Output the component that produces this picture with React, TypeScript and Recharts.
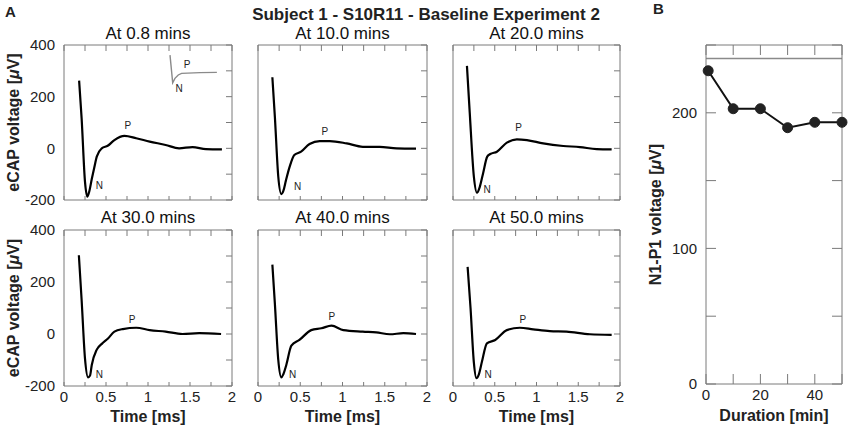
import { Label, Line, LineChart, ReferenceDot, ReferenceLine, XAxis, YAxis } from "recharts";

// eCAP traces (time in ms, voltage in µV)
const t08 = [0.18, 0.21, 0.25, 0.277, 0.3, 0.33, 0.36, 0.39, 0.45, 0.52, 0.6, 0.72, 0.86, 1.02, 1.21, 1.37, 1.53, 1.69, 1.88];
const v08 = [262, 115, -130, -187, -168, -120, -75, -32, 0, 10, 32, 48, 39, 26, 13, 0, 5, -3, -4];

const t10 = [0.17, 0.2, 0.24, 0.276, 0.3, 0.33, 0.375, 0.43, 0.51, 0.61, 0.73, 0.85, 1.05, 1.24, 1.44, 1.64, 1.87];
const v10 = [275, 120, -110, -177, -165, -125, -71, -26, -13, 17, 28, 28, 19, 6, 6, 0, -1];

const t20 = [0.167, 0.2, 0.25, 0.287, 0.32, 0.36, 0.41, 0.446, 0.526, 0.645, 0.765, 0.885, 1.08, 1.32, 1.52, 1.72, 1.9];
const v20 = [319, 140, -110, -172, -150, -97, -32, -22, -13, 22, 35, 32, 19, 9, 5, -3, -4];

const t30 = [0.177, 0.21, 0.25, 0.287, 0.31, 0.33, 0.39, 0.45, 0.524, 0.6, 0.7, 0.86, 1.02, 1.21, 1.41, 1.61, 1.87];
const v30 = [303, 130, -95, -167, -160, -120, -60, -38, -17, 9, 19, 24, 15, 9, 0, 3, 0];

const t40 = [0.17, 0.2, 0.24, 0.276, 0.3, 0.335, 0.395, 0.49, 0.63, 0.75, 0.87, 1.01, 1.24, 1.4, 1.56, 1.72, 1.87];
const v40 = [267, 115, -100, -167, -155, -119, -45, -23, 15, 22, 32, 15, 9, 6, -1, 3, 0];

const t50 = [0.175, 0.21, 0.25, 0.28, 0.31, 0.347, 0.406, 0.506, 0.645, 0.8, 0.96, 1.16, 1.36, 1.64, 1.9];
const v50 = [258, 100, -110, -170, -155, -106, -36, -23, 15, 24, 18, 11, 9, -1, -3];

// small grey template trace drawn in the first panel
const tInset = [1.262, 1.294, 1.321, 1.36, 1.4, 1.62, 1.82];
const vInset = [361, 254, 271, 284, 290, 293, 294];

// N1-P1 amplitude over time
const durations = [0.8, 10, 20, 30, 40, 50];
const n1p1 = [231, 203, 203, 189, 193, 193];

const panelTitles = ["At 0.8 mins", "At 10.0 mins", "At 20.0 mins", "At 30.0 mins", "At 40.0 mins", "At 50.0 mins"];
const pLabels = [[0.76, 90], [0.79, 65], [0.785, 81], [0.81, 57], [0.875, 66], [0.835, 57]];
const nLabels = [[0.42, -142], [0.47, -146], [0.41, -159], [0.42, -155], [0.41, -155], [0.42, -155]];

const timeTicks = [0, 0.25, 0.5, 0.75, 1, 1.25, 1.5, 1.75, 2];
const voltTicks = [-200, -100, 0, 100, 200, 300, 400];
const durTicks = [0, 10, 20, 30, 40, 50];
const ampTicks = [0, 50, 100, 150, 200, 250];

const FONT = "'Liberation Sans', Arial, Helvetica, sans-serif";
const FRAME = "#7a7a7a";
const tickText = { fill: "#222", fontSize: 15, fontFamily: FONT };
const blank = () => "";

const zip = (t: number[], v: number[]) => t.map((x, i) => ({ t: x, v: v[i] }));
const traces = [zip(t08, v08), zip(t10, v10), zip(t20, v20), zip(t30, v30), zip(t40, v40), zip(t50, v50)];
const insetData = zip(tInset, vInset);
const ampData = durations.map((d, i) => ({ d, a: n1p1[i] }));

const colX = [[64, 232], [258, 427], [453, 620]];
const rowY = [[45, 200], [230, 386]];

const PAD_L = 45;
const PAD_R = 10;
const PAD_T = 10;
const PAD_B = 25;
// the top/right frame axes need a size of at least 1px or recharts skips them
const margin = { top: PAD_T - 1, right: PAD_R - 1, bottom: 0, left: 0 };

function Tag({ x, y, text }: { x: number; y: number; text: string }) {
  return (
    <ReferenceDot fill="none" r={0} stroke="none" x={x} y={y}>
      <Label fill="#222" fontFamily={FONT} fontSize={10} position="center" value={text} />
    </ReferenceDot>
  );
}

function TracePanel({ index }: { index: number }) {
  const col = index % 3;
  const row = Math.floor(index / 3);
  const [x0, x1] = colX[col];
  const [y0, y1] = rowY[row];
  const w = x1 - x0;
  const h = y1 - y0;
  const showX = row === 1;
  const showY = col === 0;
  return (
    <div style={{ position: "absolute", left: x0 - PAD_L, top: y0 - PAD_T }}>
      <LineChart data={traces[index]} height={h + PAD_T + PAD_B} margin={margin} width={w + PAD_L + PAD_R}>
        <XAxis
          axisLine={{ stroke: FRAME }}
          dataKey="t"
          domain={[0, 2]}
          height={PAD_B}
          tick={tickText}
          tickFormatter={showX ? (v: number) => (v % 0.5 === 0 ? String(v) : "") : blank}
          tickLine={{ stroke: FRAME }}
          tickMargin={9}
          tickSize={-4}
          ticks={timeTicks}
          type="number"
        />
        <XAxis
          axisLine={{ stroke: FRAME }}
          dataKey="t"
          domain={[0, 2]}
          height={1}
          orientation="top"
          tick={tickText}
          tickFormatter={blank}
          tickLine={{ stroke: FRAME }}
          tickSize={-6}
          ticks={timeTicks}
          type="number"
          xAxisId="top"
        />
        <YAxis
          axisLine={{ stroke: FRAME }}
          domain={[-200, 400]}
          tick={showY ? tickText : false}
          tickFormatter={(v: number) => (v % 200 === 0 ? String(v) : "")}
          tickLine={false}
          tickMargin={9}
          tickSize={0}
          ticks={voltTicks}
          type="number"
          width={PAD_L}
        />
        <YAxis
          axisLine={{ stroke: FRAME }}
          domain={[-200, 400]}
          orientation="right"
          tick={tickText}
          tickFormatter={blank}
          tickLine={{ stroke: FRAME }}
          tickSize={-6}
          ticks={voltTicks}
          type="number"
          width={1}
          yAxisId="right"
        />
        {/* invisible twin so the top and right frame axes get a series */}
        <Line
          dataKey="v"
          dot={false}
          isAnimationActive={false}
          legendType="none"
          stroke="none"
          xAxisId="top"
          yAxisId="right"
        />
        <Line
          dataKey="v"
          dot={false}
          isAnimationActive={false}
          stroke="#000"
          strokeWidth={2.2}
          type="monotone"
        />
        {index === 0 && (
          <Line
            data={insetData}
            dataKey="v"
            dot={false}
            isAnimationActive={false}
            stroke="#8a8a8a"
            strokeWidth={1.4}
            type="linear"
          />
        )}
        {index === 0 && <Tag text="P" x={1.464} y={326} />}
        {index === 0 && <Tag text="N" x={1.37} y={232} />}
        <Tag text="P" x={pLabels[index][0]} y={pLabels[index][1]} />
        <Tag text="N" x={nLabels[index][0]} y={nLabels[index][1]} />
      </LineChart>
    </div>
  );
}

function AmplitudePanel() {
  const x0 = 706;
  const x1 = 842;
  const y0 = 45;
  const y1 = 384;
  return (
    <div style={{ position: "absolute", left: x0 - PAD_L, top: y0 - PAD_T }}>
      <LineChart data={ampData} height={y1 - y0 + PAD_T + PAD_B} margin={margin} width={x1 - x0 + PAD_L + PAD_R}>
        <XAxis
          axisLine={{ stroke: FRAME }}
          dataKey="d"
          domain={[0, 50]}
          height={PAD_B}
          tick={tickText}
          tickFormatter={(v: number) => (v % 20 === 0 ? String(v) : "")}
          tickLine={{ stroke: FRAME }}
          tickMargin={15}
          tickSize={-10}
          ticks={durTicks}
          type="number"
        />
        <XAxis
          axisLine={{ stroke: FRAME }}
          dataKey="d"
          domain={[0, 50]}
          height={1}
          orientation="top"
          tick={tickText}
          tickFormatter={blank}
          tickLine={{ stroke: FRAME }}
          tickSize={-10}
          ticks={durTicks}
          type="number"
          xAxisId="top"
        />
        <YAxis
          axisLine={{ stroke: FRAME }}
          domain={[0, 250]}
          tick={tickText}
          tickFormatter={(v: number) => (v % 100 === 0 ? String(v) : "")}
          tickLine={{ stroke: FRAME }}
          tickMargin={19}
          tickSize={-10}
          ticks={ampTicks}
          type="number"
          width={PAD_L}
        />
        <YAxis
          axisLine={{ stroke: FRAME }}
          domain={[0, 250]}
          orientation="right"
          tick={tickText}
          tickFormatter={blank}
          tickLine={{ stroke: FRAME }}
          tickSize={-10}
          ticks={ampTicks}
          type="number"
          width={1}
          yAxisId="right"
        />
        <Line
          dataKey="a"
          dot={false}
          isAnimationActive={false}
          legendType="none"
          stroke="none"
          xAxisId="top"
          yAxisId="right"
        />
        <ReferenceLine stroke="#8a8a8a" strokeWidth={1.6} y={240} />
        <Line
          dataKey="a"
          dot={{ r: 5, fill: "#222", stroke: "#222", strokeWidth: 1 }}
          isAnimationActive={false}
          stroke="#111"
          strokeWidth={2}
          type="linear"
        />
      </LineChart>
    </div>
  );
}

function Mu() {
  return <tspan fontStyle="italic">μ</tspan>;
}

function Annotations() {
  const bold = { fontFamily: FONT, fontWeight: 700, fill: "#222" };
  const plain = { fontFamily: FONT, fill: "#111" };
  return (
    <svg height={434} style={{ position: "absolute", left: 0, top: 0, pointerEvents: "none" }} width={851}>
      <text {...bold} fontSize={15} x={5} y={17}>A</text>
      <text {...bold} fontSize={15} x={653} y={14}>B</text>
      <text {...bold} fontSize={17} textAnchor="middle" x={426} y={20}>
        Subject 1 - S10R11 - Baseline Experiment 2
      </text>
      {panelTitles.map((title, i) => {
        const [x0, x1] = colX[i % 3];
        const baseline = i < 3 ? 39 : 223;
        return (
          <text {...plain} fontSize={17} key={title} textAnchor="middle" x={(x0 + x1) / 2} y={baseline}>
            {title}
          </text>
        );
      })}
      {rowY.map(([y0, y1]) => (
        <text
          {...bold}
          dominantBaseline="central"
          fontSize={16}
          key={y0}
          textAnchor="middle"
          transform={`translate(13 ${(y0 + y1) / 2}) rotate(-90)`}
        >
          eCAP voltage [<Mu />V]
        </text>
      ))}
      {colX.map(([x0, x1]) => (
        <text {...bold} fontSize={16} key={x0} textAnchor="middle" x={(x0 + x1) / 2} y={422}>
          Time [ms]
        </text>
      ))}
      <text
        {...bold}
        dominantBaseline="central"
        fontSize={16}
        textAnchor="middle"
        transform="translate(655 214.5) rotate(-90)"
      >
        N1-P1 voltage [<Mu />V]
      </text>
      <text {...bold} fontSize={16} textAnchor="middle" x={774} y={421}>
        Duration [min]
      </text>
    </svg>
  );
}

export default function App() {
  return (
    <div style={{ position: "absolute", left: 0, top: 0, width: 851, height: 434, background: "#fff", fontFamily: FONT }}>
      {[0, 1, 2, 3, 4, 5].map((i) => (
        <TracePanel index={i} key={i} />
      ))}
      <AmplitudePanel />
      <Annotations />
    </div>
  );
}
